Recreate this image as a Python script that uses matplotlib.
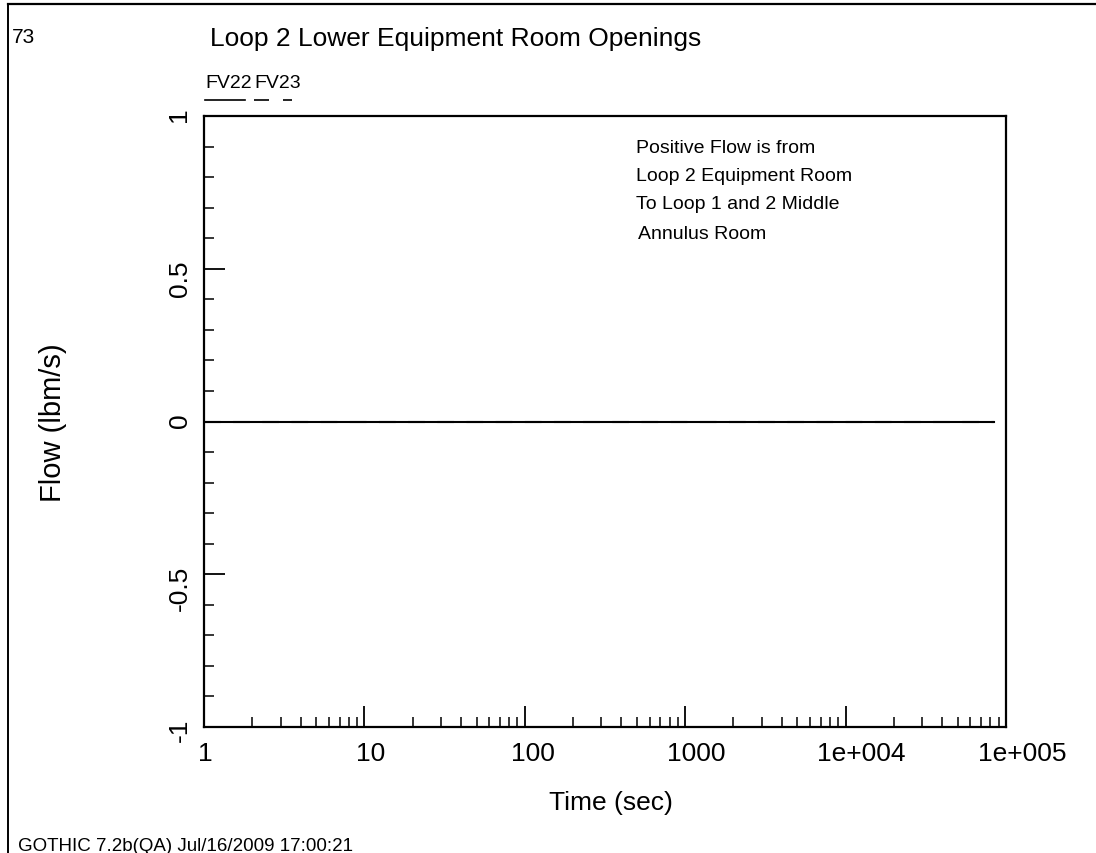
import numpy as np
import matplotlib
matplotlib.use("Agg")
import matplotlib.pyplot as plt
import matplotlib.transforms as mtransforms
from matplotlib.lines import Line2D
from matplotlib.ticker import FixedLocator, FixedFormatter

plt.rcParams['font.family'] = ['Liberation Sans', 'DejaVu Sans']

# data: both flows sit at zero over the whole run
time = [1, 10, 100, 1000, 10000, 84000]
fv22 = [0, 0, 0, 0, 0, 0]
fv23 = [0, 0, 0, 0, 0, 0]

xticks = [1, 10, 100, 1000, 1e4, 1e5]
xticklabels = ["1", "10", "100", "1000", "1e+004", "1e+005"]
yticks = [-1, -0.5, 0, 0.5, 1]
yticklabels = ["-1", "-0.5", "0", "0.5", "1"]
note = ["Positive Flow is from", "Loop 2 Equipment Room",
        "To Loop 1 and 2 Middle", "Annulus Room"]

W, H = 1096, 854
fig = plt.figure(figsize=(W / 100, H / 100), dpi=100)

def fx(px):
    return px / W

def fy(py):
    return 1 - py / H

ax = fig.add_axes([fx(204), fy(728), fx(1006) - fx(204), fy(117) - fy(728)])

ax.plot(time, fv22, color="black", lw=1.5, ls="-")
ax.plot(time, fv23, color="black", lw=1.5, ls=(0, (8, 6)))

ax.set_xscale("log")
ax.set_xlim(1, 1e5)
ax.set_ylim(-1, 1)

ax.xaxis.set_major_locator(FixedLocator(xticks))
ax.xaxis.set_major_formatter(FixedFormatter(xticklabels))
minx = [m * 10 ** d for d in range(5) for m in range(2, 10)]
ax.xaxis.set_minor_locator(FixedLocator(minx))
ax.xaxis.set_minor_formatter(FixedFormatter([""] * len(minx)))

ax.yaxis.set_major_locator(FixedLocator(yticks))
ax.yaxis.set_major_formatter(FixedFormatter(yticklabels))
miny = [v / 10 for v in range(-9, 10) if v % 5 != 0]
ax.yaxis.set_minor_locator(FixedLocator(miny))

ax.tick_params(which="major", direction="in", length=15, width=1.3,
               labelsize=19, pad=10, top=False, right=False)
ax.tick_params(which="minor", direction="in", length=7.5, width=1.1,
               top=False, right=False)
ax.tick_params(axis="y", labelrotation=90, pad=9)
for s in ax.spines.values():
    s.set_linewidth(1.6)

# the original program centres the x labels a bit to the right of the ticks
shift_px = [1, 6, 8, 11, 16, 16]
for lab, dx in zip(ax.get_xticklabels(), shift_px):
    lab.set_transform(lab.get_transform() +
                      mtransforms.ScaledTranslation(dx / 100, 0, fig.dpi_scale_trans))

ax.set_xlabel("Time (sec)", fontsize=19)
ax.xaxis.set_label_coords((611 - 204) / 802, (728 - 791) / 611)
ax.set_ylabel("Flow (lbm/s)", fontsize=21)
ax.yaxis.set_label_coords((67 - 204) / 802, 0.5)

# header / footer texts
fig.text(fx(12), fy(43), "73", fontsize=15, va="baseline")
fig.text(fx(210), fy(46), "Loop 2 Lower Equipment Room Openings",
         fontsize=19, va="baseline")
fig.text(fx(205), fy(88), "FV22", fontsize=14, va="baseline")
fig.text(fx(254), fy(88), "FV23", fontsize=14, va="baseline")
fig.add_artist(Line2D([fx(205), fx(245)], [fy(101), fy(101)], color="black", lw=1.2))
fig.add_artist(Line2D([fx(254), fx(292)], [fy(101), fy(101)], color="black", lw=1.2,
                      ls=(0, (9, 8.4))))

for i, line in enumerate(note):
    x0 = 638 if i == 3 else 636
    fig.text(fx(x0), fy(153 + 28 * i + (2 if i == 3 else 0)), line,
             fontsize=14, va="baseline")

fig.text(fx(18), fy(851), "GOTHIC 7.2b(QA) Jul/16/2009 17:00:21",
         fontsize=13.5, va="baseline")

# page frame (left and top edges)
fig.add_artist(Line2D([fx(8), fx(8)], [fy(5), 0], color="black", lw=1.4))
fig.add_artist(Line2D([fx(8), 1], [fy(5), fy(5)], color="black", lw=1.6))

fig.savefig("out.png", dpi=100)
